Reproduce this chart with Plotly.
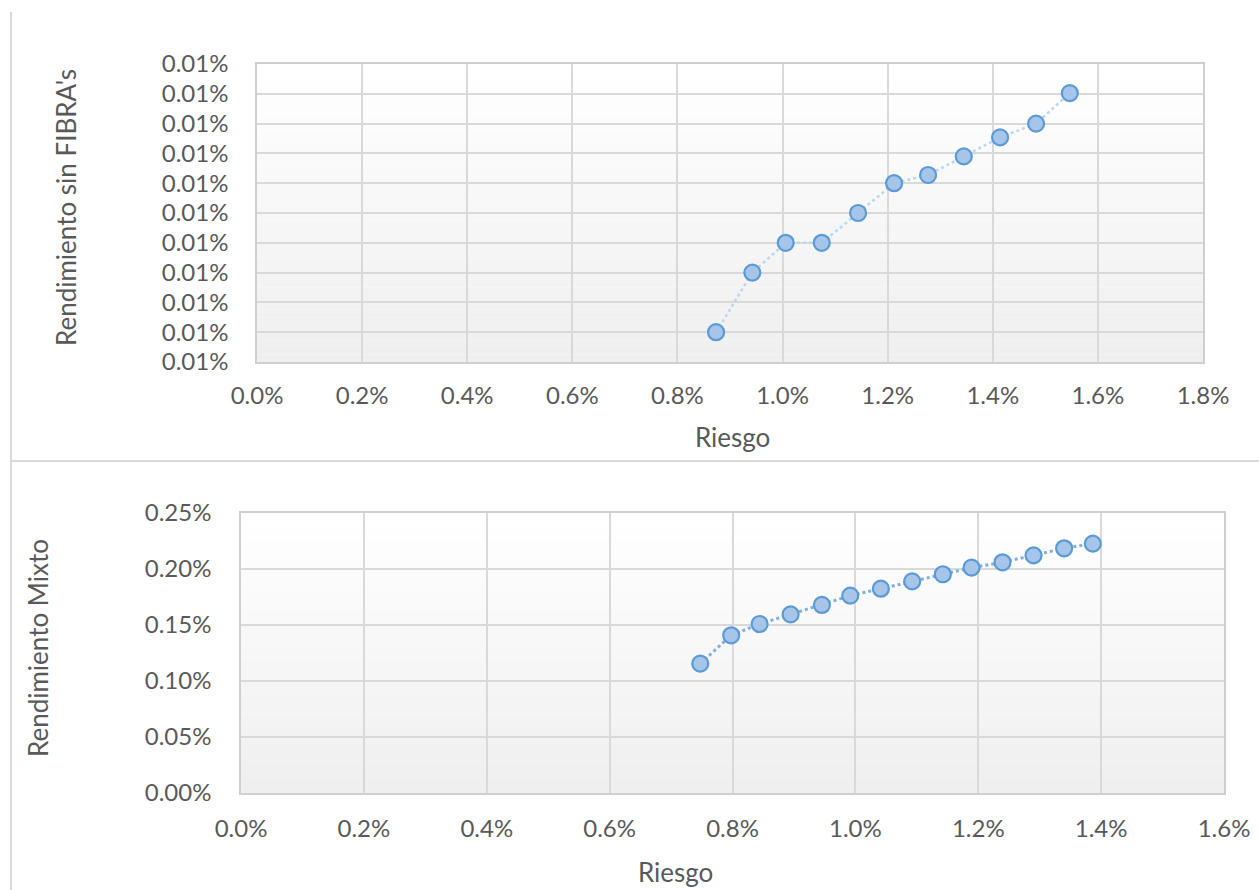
import plotly.graph_objects as go

# Portafolio sin FIBRA's: riesgo vs rendimiento (fracciones)
riesgo_sin = [0.008735, 0.009425, 0.01006, 0.010746, 0.011437, 0.012122,
              0.012769, 0.013448, 0.014139, 0.014824, 0.015466]
rend_sin = [0.0000680, 0.0000840, 0.0000920, 0.0000920, 0.0001000, 0.0001080,
            0.0001102, 0.0001152, 0.0001203, 0.0001240, 0.0001322]

# Portafolio mixto
riesgo_mix = [0.007475, 0.007979, 0.008441, 0.008946, 0.009455, 0.009916, 0.010415,
              0.010925, 0.011424, 0.011891, 0.012395, 0.012900, 0.013398, 0.013865]
rend_mix = [0.001155, 0.001408, 0.001509, 0.001595, 0.001679, 0.001762, 0.001824,
            0.001890, 0.001953, 0.002012, 0.002060, 0.002122, 0.002185, 0.002226]

# Marcas del eje vertical superior (todas se muestran como 0.01%)
ticks_sin = [0.000060 + 0.000008 * i for i in range(11)]
labels_sin = ["0.01%"] * 11

FONT = "Lato"
GRAY = "#595959"
GRID = "#d9d9d9"

fig = go.Figure()

marker = dict(size=16, color="#a7c4e9", line=dict(color="#5b9bd5", width=2.2))

fig.add_trace(go.Scatter(
    x=riesgo_sin, y=rend_sin, mode="lines+markers",
    line=dict(color="#bcd6ef", width=2.5, dash="dot"),
    marker=marker, xaxis="x", yaxis="y", showlegend=False))

fig.add_trace(go.Scatter(
    x=riesgo_mix, y=rend_mix, mode="lines+markers",
    line=dict(color="#7fb0e0", width=3, dash="dot"),
    marker=marker, xaxis="x2", yaxis="y2", showlegend=False))

W, H = 1259, 890


def px_x(p):
    return p / W


def px_y(p):
    return 1 - p / H


axis_common = dict(
    showgrid=True, gridcolor=GRID, gridwidth=1.6,
    showline=True, linecolor="#cfcfcf", linewidth=1.6, mirror=True,
    zeroline=False, ticks="", automargin=False,
    tickfont=dict(family=FONT, size=24, color=GRAY),
)

fig.update_layout(
    width=W, height=H,
    margin=dict(l=0, r=0, t=0, b=0, pad=0, autoexpand=False),
    paper_bgcolor="white", plot_bgcolor="rgba(0,0,0,0)",
    xaxis=dict(axis_common, domain=[px_x(257), px_x(1203)], range=[0, 0.018],
               dtick=0.002, tickformat=".1%", anchor="y", ticklabelstandoff=11),
    yaxis=dict(axis_common, domain=[px_y(362), px_y(64)], range=[0.000060, 0.000140],
               tickvals=ticks_sin, ticktext=labels_sin, anchor="x",
               ticklabelstandoff=22),
    xaxis2=dict(axis_common, domain=[px_x(241), px_x(1224)], range=[0, 0.016],
                dtick=0.002, tickformat=".1%", anchor="y2", ticklabelstandoff=13),
    yaxis2=dict(axis_common, domain=[px_y(793), px_y(513)], range=[0, 0.0025],
                dtick=0.0005, tickformat=".2%", anchor="x2", ticklabelstandoff=23),
)

# Fondo degradado del área de trazado (blanco arriba, gris claro abajo)
shapes = []
n = 40
for xa, ya in (("x", "y"), ("x2", "y2")):
    for i in range(n):
        t = i / (n - 1)
        v = int(round(255 - (255 - 239) * (1 - t)))
        c = f"rgb({v},{v},{v})"
        shapes.append(dict(type="rect", layer="below", line=dict(width=0),
                           xref=f"{xa} domain", yref=f"{ya} domain",
                           x0=0, x1=1, y0=i / n, y1=(i + 1) / n, fillcolor=c))

# Bordes de los marcos de cada gráfico
shapes.append(dict(type="line", xref="paper", yref="paper",
                   x0=px_x(11), x1=px_x(11), y0=px_y(12), y1=0,
                   line=dict(color=GRID, width=2)))
shapes.append(dict(type="line", xref="paper", yref="paper",
                   x0=px_x(11), x1=1, y0=px_y(461), y1=px_y(461),
                   line=dict(color=GRID, width=2)))
fig.update_layout(shapes=shapes)

title_font = dict(family=FONT, size=26, color=GRAY)
fig.update_layout(annotations=[
    dict(text="Riesgo", x=px_x(732), y=px_y(437), xref="paper", yref="paper",
         showarrow=False, font=title_font, xanchor="center", yanchor="middle"),
    dict(text="Rendimiento sin FIBRA's", x=px_x(66), y=px_y(208), xref="paper",
         yref="paper", showarrow=False, font=title_font, textangle=-90,
         xanchor="center", yanchor="middle"),
    dict(text="Riesgo", x=px_x(675), y=px_y(872), xref="paper", yref="paper",
         showarrow=False, font=title_font, xanchor="center", yanchor="middle"),
    dict(text="Rendimiento Mixto", x=px_x(38), y=px_y(648), xref="paper",
         yref="paper", showarrow=False, font=title_font, textangle=-90,
         xanchor="center", yanchor="middle"),
])

fig.write_html("out.html")
